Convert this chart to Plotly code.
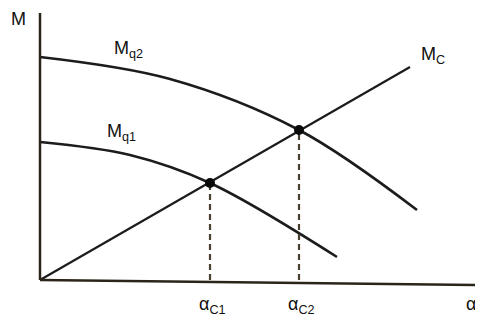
import plotly.graph_objects as go

# curve points (alpha, M)
alpha_q2 = [0, 130, 259, 377]
m_q2 = [223, 201, 150, 70]

alpha_q1 = [0, 90, 170, 297]
m_q1 = [138, 125, 97, 23]

alpha_c = [0, 370]
m_c = [0, 213]

# operating points
alpha_op = [170, 259]
m_op = [97, 150]
op_labels = ["C1", "C2"]

line_col = "#1c1c1c"
axis_col = "#2b2419"


def sub(base, s):
    return base + "<sub>" + s + "</sub>"


fig = go.Figure()
fig.add_trace(go.Scatter(x=alpha_q2, y=m_q2, mode="lines",
                         line=dict(color=line_col, width=2.6, shape="spline")))
fig.add_trace(go.Scatter(x=alpha_q1, y=m_q1, mode="lines",
                         line=dict(color=line_col, width=2.6, shape="spline")))
fig.add_trace(go.Scatter(x=alpha_c, y=m_c, mode="lines", line=dict(color=line_col, width=2.2)))

for a, m in zip(alpha_op, m_op):
    fig.add_trace(go.Scatter(x=[a, a], y=[0, m], mode="lines",
                             line=dict(color="#4a4030", width=2.2, dash="6px,4px")))
fig.add_trace(go.Scatter(x=alpha_op, y=m_op, mode="markers",
                         marker=dict(color="#0a0a0a", size=10)))

# axes
fig.add_shape(type="line", x0=0, y0=0, x1=0, y1=267, line=dict(color=axis_col, width=2.5))
fig.add_shape(type="line", x0=0, y0=0, x1=443, y1=-5, line=dict(color=axis_col, width=2.5))

txt = dict(family="Liberation Sans, Arial, sans-serif", size=18, color="#111")
fig.add_annotation(x=-22, y=261, text="M", showarrow=False, font=txt)
fig.add_annotation(x=88, y=231, text=sub("M", "q2"), showarrow=False, font=txt)
fig.add_annotation(x=81, y=148, text=sub("M", "q1"), showarrow=False, font=txt)
fig.add_annotation(x=393, y=225, text=sub("M", "C"), showarrow=False, font=txt)
for a, lab in zip(alpha_op, op_labels):
    fig.add_annotation(x=a + 2, y=-25, text=sub("α", lab), showarrow=False, font=txt)
fig.add_annotation(x=431, y=-24, text="α", showarrow=False, font=txt)

# page body has an 8px margin, so the figure starts at (8, 8)
fig.update_layout(
    width=475, height=321,
    margin=dict(l=0, r=0, t=0, b=0),
    plot_bgcolor="white", paper_bgcolor="white",
    showlegend=False,
    xaxis=dict(range=[-32, 443], visible=False),
    yaxis=dict(range=[-49, 272], visible=False),
)
fig.write_html("out.html")
